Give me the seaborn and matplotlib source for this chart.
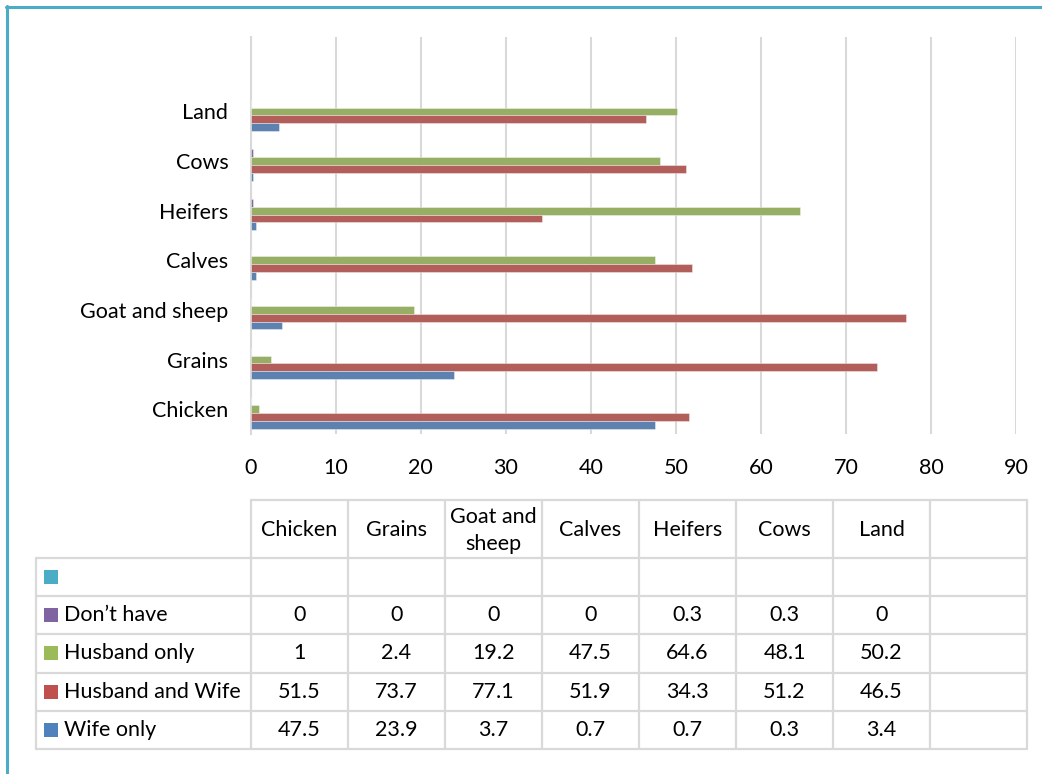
import matplotlib
matplotlib.use("Agg")
import matplotlib.pyplot as plt
import numpy as np
import pandas as pd
import seaborn as sns
from matplotlib.patches import Rectangle
from matplotlib.lines import Line2D

# ---- data -------------------------------------------------------------
categories = ["Chicken", "Grains", "Goat and sheep", "Calves", "Heifers", "Cows", "Land"]
header_labels = ["Chicken", "Grains", "Goat and\nsheep", "Calves", "Heifers", "Cows", "Land"]
series_names = ["Don\u2019t have", "Husband only", "Husband and Wife", "Wife only"]
dont_have = [0, 0, 0, 0, 0.3, 0.3, 0]
husband_only = [1, 2.4, 19.2, 47.5, 64.6, 48.1, 50.2]
husband_and_wife = [51.5, 73.7, 77.1, 51.9, 34.3, 51.2, 46.5]
wife_only = [47.5, 23.9, 3.7, 0.7, 0.7, 0.3, 3.4]
x_ticks = [0, 10, 20, 30, 40, 50, 60, 70, 80, 90]

blank_series = " "          # empty series shown only as a table row
blank_category = ""         # empty category slot / table column

series_values = [dont_have, husband_only, husband_and_wife, wife_only]
series_colors = {
    blank_series: "#4BACC6",
    "Don\u2019t have": "#8064A2",
    "Husband only": "#9BBB59",
    "Husband and Wife": "#C0504D",
    "Wife only": "#4F81BD",
}

rows = []
for name, vals in zip(series_names, series_values):
    for cat, v in zip(categories, vals):
        rows.append({"category": cat, "series": name, "value": v})
df = pd.DataFrame(rows)

# ---- figure -----------------------------------------------------------
W, H = 1042, 774
DPI = 100
sns.set_theme(style="white")
plt.rcParams["font.family"] = ["Lato", "DejaVu Sans"]
FS = 15.5
TXT = "#000000"
GRID = "#D9D9D9"

fig = plt.figure(figsize=(W / DPI, H / DPI), dpi=DPI)
fig.patch.set_facecolor("white")

def fx(px):
    return px / W

def fy(py):
    return 1 - py / H

ax_left, ax_right, ax_top, ax_bottom = 250.5, 1016, 37, 434
ax = fig.add_axes([fx(ax_left), fy(ax_bottom), fx(ax_right - ax_left), (ax_bottom - ax_top) / H])

plot_order = [blank_category] + categories[::-1]
hue_order = [blank_series] + series_names

sns.barplot(
    data=df, y="category", x="value", hue="series",
    order=plot_order, hue_order=hue_order, palette=series_colors,
    orient="h", width=0.786, errorbar=None, legend=False,
    edgecolor=(1, 1, 1, 0.45), linewidth=0.6, ax=ax, zorder=3,
)

ax.set_xlim(0, 90)
ax.set_xticks(x_ticks)
ax.set_xticklabels([str(t) for t in x_ticks], fontsize=FS, color=TXT)
ax.set_yticks(range(len(plot_order)))
ax.set_yticklabels(plot_order, fontsize=FS, color=TXT)
ax.tick_params(axis="x", length=0, pad=17)
ax.tick_params(axis="y", length=0, pad=16)
ax.set_xlabel("")
ax.set_ylabel("")
ax.xaxis.grid(True, color=GRID, linewidth=1.5, zorder=0)
ax.yaxis.grid(False)
ax.set_axisbelow(True)
for side in ["top", "right", "bottom"]:
    ax.spines[side].set_visible(False)
ax.spines["left"].set_color(GRID)
ax.spines["left"].set_linewidth(1.5)

# ---- data table -------------------------------------------------------
ov = fig.add_axes([0, 0, 1, 1], zorder=-1)
ov.set_xlim(0, W)
ov.set_ylim(H, 0)
ov.axis("off")

col_left, col_w = 251, 97.0
n_cols = len(categories) + 1
col_right = col_left + n_cols * col_w
head_top, head_bot = 499.5, 557.5
row_h = 38.35
table_rows = [blank_series] + series_names
row_vals = [[None] * len(categories)] + series_values
body_bot = head_bot + len(table_rows) * row_h
leg_left = 36

lw_tab = 1.6
# horizontal rules
ov.add_line(Line2D([col_left, col_right], [head_top, head_top], color=GRID, lw=lw_tab))
for i in range(len(table_rows) + 1):
    y = head_bot + i * row_h
    ov.add_line(Line2D([leg_left, col_right], [y, y], color=GRID, lw=lw_tab))
# vertical rules
ov.add_line(Line2D([leg_left, leg_left], [head_bot, body_bot], color=GRID, lw=lw_tab))
for k in range(n_cols + 1):
    x = col_left + k * col_w
    ov.add_line(Line2D([x, x], [head_top, body_bot], color=GRID, lw=lw_tab))

# header text
for k, lab in enumerate(header_labels):
    ov.text(col_left + (k + 0.5) * col_w, (head_top + head_bot) / 2 + 2, lab,
            ha="center", va="center", fontsize=FS, color=TXT, linespacing=1.45)

# rows: legend key + label + values
for i, (name, vals) in enumerate(zip(table_rows, row_vals)):
    yc = head_bot + (i + 0.5) * row_h
    ov.add_patch(Rectangle((44, yc - 7), 14, 14, color=series_colors[name], lw=0))
    ov.text(64, yc, name.strip(), ha="left", va="center", fontsize=FS, color=TXT)
    for k, v in enumerate(vals):
        if v is None:
            continue
        ov.text(col_left + (k + 0.5) * col_w, yc, f"{v:g}",
                ha="center", va="center", fontsize=FS, color=TXT)

# outer frame (top and left edges)
ov.add_line(Line2D([7, 7], [6, H], color="#4BACC6", lw=2.2))
ov.add_line(Line2D([6, W], [7, 7], color="#4BACC6", lw=2.2))

fig.savefig("out.png", dpi=DPI, facecolor="white")
